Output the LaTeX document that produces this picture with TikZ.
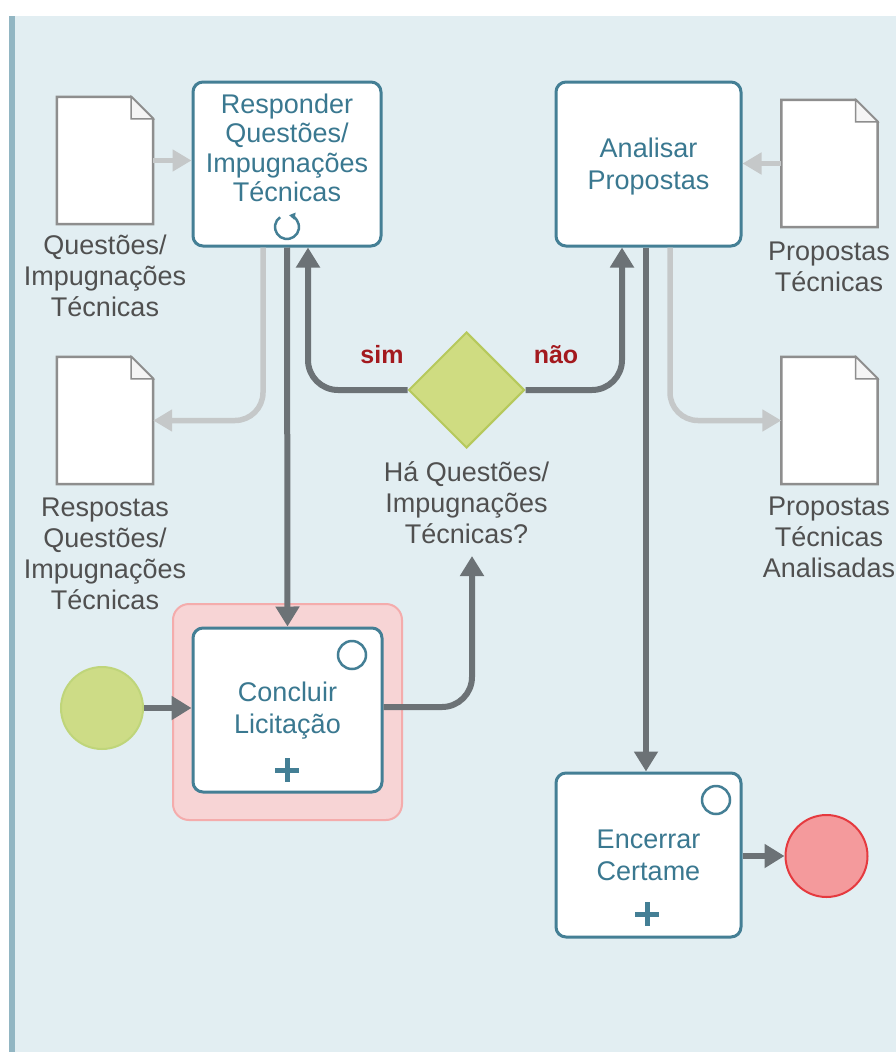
\documentclass[tikz,border=0pt]{standalone}
\usepackage{fontspec}
\setmainfont{Liberation Sans}
\usetikzlibrary{shapes.geometric,arrows.meta}
\definecolor{panelbg}{HTML}{E2EEF2}
\definecolor{lanebar}{HTML}{92B6C3}
\definecolor{taskline}{HTML}{447F95}
\definecolor{tasktext}{HTML}{3A7890}
\definecolor{docline}{HTML}{8E8E8E}
\definecolor{labeltext}{HTML}{505050}
\definecolor{seqgray}{HTML}{6C7276}
\definecolor{datagray}{HTML}{C5C8C9}
\definecolor{gwfill}{HTML}{CFDC81}
\definecolor{gwline}{HTML}{B6C95C}
\definecolor{startfill}{HTML}{CDDC86}
\definecolor{startline}{HTML}{BFD57A}
\definecolor{endfill}{HTML}{F49A9C}
\definecolor{endline}{HTML}{E53A3F}
\definecolor{hilitefill}{HTML}{F7D4D5}
\definecolor{hiliteline}{HTML}{F4ACAC}
\definecolor{condred}{HTML}{A3191E}
\begin{document}
\begin{tikzpicture}[x=1pt,y=-1pt,
  taskbox/.style={draw=taskline, fill=white, line width=3pt, rounded corners=10pt,
    minimum width=#1, minimum height=164pt, inner sep=0pt},
  tasktxt/.style={text=tasktext, align=center, inner sep=0pt,
    font=\fontsize{27}{32}\selectfont},
  docbox/.style={minimum width=96pt, minimum height=127pt, inner sep=0pt},
  doctxt/.style={text=labeltext, align=center, inner sep=0pt,
    font=\fontsize{27}{31}\selectfont},
  seqflow/.style={draw=seqgray, line width=6pt, rounded corners=30pt,
    -{Triangle[length=20pt,width=23pt]}},
  dataflow/.style={draw=datagray, line width=5.5pt, rounded corners=28pt,
    -{Triangle[length=19pt,width=21pt]}},
  condtxt/.style={text=condred, font=\bfseries\fontsize{25}{30}\selectfont, inner sep=0pt},
  marker/.style={draw=taskline, line width=2.5pt}
]
\useasboundingbox (0,0) rectangle (896,1052);
% pool background and lane edge
\fill[white] (0,0) rectangle (896,1052);
\fill[panelbg] (9,16) rectangle (896,1052);
\fill[lanebar] (9,16) rectangle (15,1052);

% highlight behind the sub-process
\node[draw=hiliteline, fill=hilitefill, line width=2pt, rounded corners=16pt,
  minimum width=229pt, minimum height=216pt, inner sep=0pt] (hilite) at (287.5,712) {};

% tasks
\node[taskbox=188pt] (resp) at (287,164) {};
\node[taskbox=185pt] (anal) at (648.5,164) {};
\node[taskbox=189pt] (concl) at (287.5,710) {};
\node[taskbox=185pt] (encer) at (648.5,855) {};

\node[tasktxt, font=\fontsize{27}{29.5}\selectfont] (resp-t) at (287,148)
  {Responder\\Questões/\\Impugnações\\Técnicas};
\node[tasktxt] (anal-t) at (648.5,167) {Analisar\\Propostas};
\node[tasktxt] (concl-t) at (287.5,711) {Concluir\\Licitação};
\node[tasktxt] (encer-t) at (648.5,855) {Encerrar\\Certame};

% loop marker
\draw[marker, -{Triangle[length=6pt,width=7pt]}] (287,227) ++(235:12) arc (235:-80:12);
% sub-process markers and event markers
\draw[marker] (352,655) circle (14pt);
\draw[marker] (716,800) circle (14pt);
\draw[taskline, line width=5pt] (275,770) -- (299,770) (287,758) -- (287,782);
\draw[taskline, line width=5pt] (635,914) -- (659,914) (647,902) -- (647,926);

% events
\node[circle, draw=startline, fill=startfill, line width=2pt, minimum size=82pt, inner sep=0pt] (start) at (102,708) {};
\node[circle, draw=endline, fill=endfill, line width=2pt, minimum size=82pt, inner sep=0pt] (end) at (826.5,856) {};

% gateway
\node[diamond, draw=gwline, fill=gwfill, line width=2pt, minimum width=116pt, minimum height=116pt, inner sep=0pt] (gw) at (466.5,390) {};
\node[doctxt] (gw-t) at (466.5,503) {Há Questões/\\Impugnações\\Técnicas?};
\coordinate (gw-in) at (472,556);

% data objects
\node[docbox] (d1) at (105,160.5) {};
\node[docbox] (d2) at (105,420.5) {};
\node[docbox] (d3) at (829.5,163.5) {};
\node[docbox] (d4) at (829.5,420.5) {};
\foreach \d in {d1,d2,d3,d4}{
  \draw[docline, fill=white, line width=2.5pt, line join=miter]
    (\d.south west) -- (\d.north west) -- ([xshift=-22pt]\d.north east)
    -- ([yshift=-22pt]\d.north east) -- (\d.south east) -- cycle;
  \draw[docline, fill=white!92!gray, line width=1.5pt]
    ([xshift=-22pt]\d.north east) -- ([xshift=-22pt,yshift=-22pt]\d.north east)
    -- ([yshift=-22pt]\d.north east) -- cycle;
}
\node[doctxt] (d1-t) at (105,276) {Questões/\\Impugnações\\Técnicas};
\node[doctxt] (d2-t) at (105,554) {Respostas\\Questões/\\Impugnações\\Técnicas};
\node[doctxt] (d3-t) at (829,266.5) {Propostas\\Técnicas};
\node[doctxt] (d4-t) at (829,537.5) {Propostas\\Técnicas\\Analisadas};

% data associations
\draw[dataflow] (d1.east) -- (resp.west |- d1.east);
\draw[dataflow] (d3.west) -- (anal.east |- d3.west);
\draw[dataflow] ([xshift=-24pt]resp.south) -- ([xshift=-24pt]resp.south |- d2.east) -- (d2.east);
\draw[dataflow] ([xshift=21.5pt]anal.south) -- ([xshift=21.5pt]anal.south |- d4.west) -- (d4.west);

% sequence flows
\draw[seqflow] (start.east) -- (concl.west |- start.east);
\draw[seqflow] (resp.south) -- (concl.north);
\draw[seqflow] (gw.west) -| ([xshift=21pt]resp.south);
\draw[seqflow] (gw.east) -| ([xshift=-26.5pt]anal.south);
\draw[seqflow] ([xshift=-2.5pt]anal.south) -- ([xshift=-2.5pt]encer.north);
\draw[seqflow] ([yshift=3pt]concl.east) -| (gw-in);
\draw[seqflow] (encer.east |- end.west) -- (end.west);

% conditions
\node[condtxt] (sim) at (382,355) {sim};
\node[condtxt] (nao) at (556,355) {não};
\end{tikzpicture}
\end{document}
